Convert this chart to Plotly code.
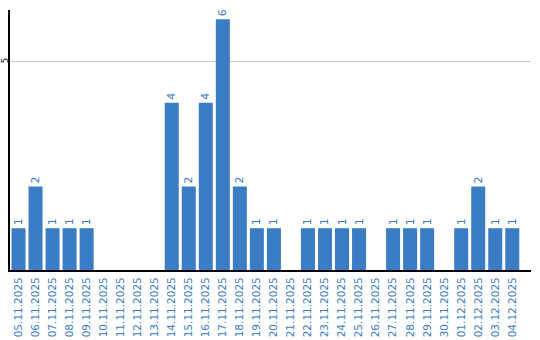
import plotly.graph_objects as go

dates = ["05.11.2025","06.11.2025","07.11.2025","08.11.2025","09.11.2025","10.11.2025",
         "11.11.2025","12.11.2025","13.11.2025","14.11.2025","15.11.2025","16.11.2025",
         "17.11.2025","18.11.2025","19.11.2025","20.11.2025","21.11.2025","22.11.2025",
         "23.11.2025","24.11.2025","25.11.2025","26.11.2025","27.11.2025","28.11.2025",
         "29.11.2025","30.11.2025","01.12.2025","02.12.2025","03.12.2025","04.12.2025"]
counts = [1,2,1,1,1,0,0,0,0,4,2,4,6,2,1,1,0,1,1,1,1,0,1,1,1,0,1,2,1,1]
y_ticks = [5]

BLUE = "#3b7dc4"
labels = [str(v) if v else "" for v in counts]

fig = go.Figure(go.Bar(
    x=dates, y=counts, marker_color=BLUE, marker_line_width=0,
    text=labels, textposition="outside", textangle=-90,
    textfont=dict(color=BLUE, size=11, family="DejaVu Sans"),
    cliponaxis=False,
))
fig.update_layout(
    width=540, height=340,
    margin=dict(l=10, r=9, t=10, b=70),
    plot_bgcolor="white", paper_bgcolor="white",
    bargap=3/17, showlegend=False,
    font=dict(family="DejaVu Sans"),
)
fig.update_xaxes(
    type="category", range=[-0.5, 30.1], automargin=False,
    showline=True, linecolor="black", linewidth=2,
    tickangle=-90, tickfont=dict(color=BLUE, size=10.5, family="DejaVu Sans"),
    ticks="", showgrid=False, ticklabelstandoff=1,
)
fig.update_yaxes(
    range=[0, 6.22], tickvals=y_ticks, showgrid=True, gridcolor="#c8c8c8", gridwidth=1,
    showline=True, linecolor="black", linewidth=2, zeroline=False, automargin=False,
    showticklabels=False, ticks="",
)
for t in y_ticks:
    fig.add_annotation(x=-5/521, xref="paper", y=t, yref="y", text=str(t),
                       textangle=-90, showarrow=False, xanchor="center", yanchor="middle",
                       font=dict(color="black", size=8, family="DejaVu Sans"))
fig.write_html("out.html")
